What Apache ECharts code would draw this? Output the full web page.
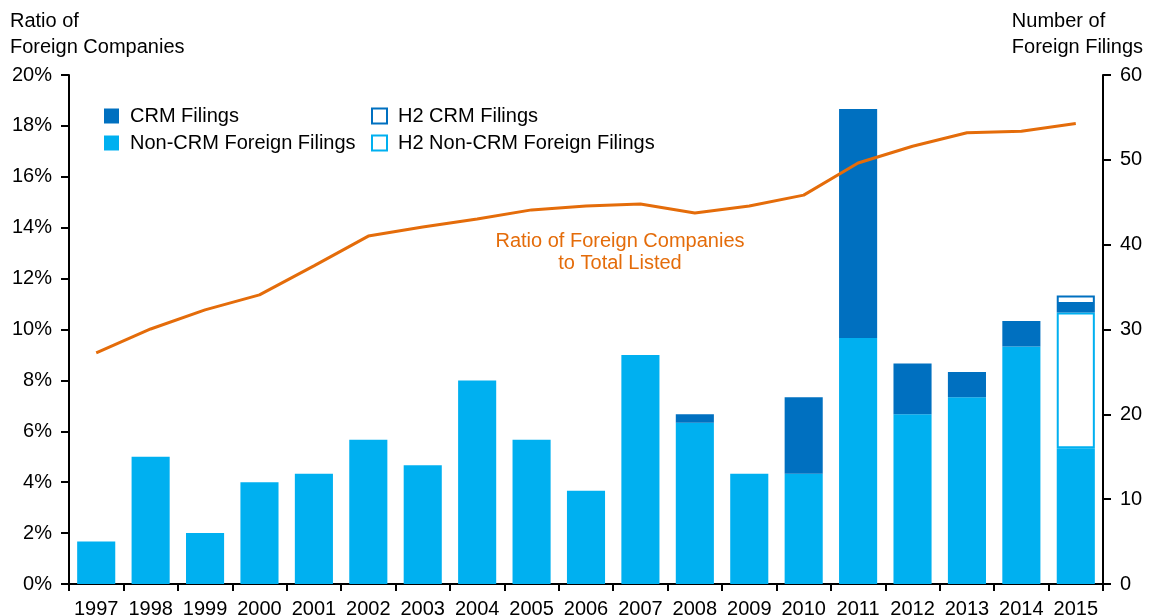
<!DOCTYPE html>
<html><head><meta charset="utf-8">
<script src="https://cdn.jsdelivr.net/npm/echarts@6/dist/echarts.min.js"></script>
<style>html,body{margin:0;padding:0;background:#fff}#c{width:1151px;height:616px}</style>
</head><body><div id="c"></div>
<script>
const years = ['1997','1998','1999','2000','2001','2002','2003','2004','2005','2006','2007','2008','2009','2010','2011','2012','2013','2014','2015'];
const nonCrm = [5,15,6,12,13,17,14,24,17,11,27,19,13,13,29,20,22,28,16];
const h2NonCrm = [0,0,0,0,0,0,0,0,0,0,0,0,0,0,0,0,0,0,16];
const crm = [0,0,0,0,0,0,0,0,0,0,0,1,0,9,27,6,3,3,1];
const h2Crm = [0,0,0,0,0,0,0,0,0,0,0,0,0,0,0,0,0,0,1];
const ratio = [9.08,10.02,10.77,11.36,12.5,13.67,14.03,14.34,14.7,14.85,14.93,14.58,14.85,15.28,16.54,17.2,17.73,17.79,18.09];
const leftTicks = [0,2,4,6,8,10,12,14,16,18,20];
const rightTicks = [0,10,20,30,40,50,60];

const LB = '#00B0F0', DB = '#0070C0', OR = '#E46C0A';
const FONT = 'Liberation Sans';
const FS = 20;
const chart = echarts.init(document.getElementById('c'));
const hide = v => v === 0 ? null : v;
const legendText = {fontSize: FS, color: '#000', fontFamily: FONT, padding: [0, 0, 0, 6]};
chart.setOption({
  animation: false,
  textStyle: {fontFamily: FONT},
  grid: {left: 69, right: 48, top: 75, bottom: 32, containLabel: false, outerBoundsMode: 'none'},
  xAxis: {
    type: 'category', data: years,
    axisLine: {lineStyle: {color: '#000', width: 2}},
    axisTick: {show: true, length: 7, lineStyle: {color: '#000', width: 2}},
    axisLabel: {color: '#000', fontSize: FS, margin: 15, fontFamily: FONT, interval: 0}
  },
  yAxis: [{
    type: 'value', min: 0, max: 20, interval: 2,
    axisLine: {show: true, lineStyle: {color: '#000', width: 2}},
    axisTick: {show: true, length: 8, lineStyle: {color: '#000', width: 2}},
    axisLabel: {color: '#000', fontSize: FS, margin: 17, fontFamily: FONT, formatter: v => v + '%'},
    splitLine: {show: false}
  }, {
    type: 'value', min: 0, max: 60, interval: 10,
    axisLine: {show: true, lineStyle: {color: '#000', width: 2}},
    axisTick: {show: true, length: 8, lineStyle: {color: '#000', width: 2}},
    axisLabel: {color: '#000', fontSize: FS, margin: 17, fontFamily: FONT},
    splitLine: {show: false}
  }],
  legend: [{
    orient: 'vertical', left: 104, top: 106, padding: 0, itemWidth: 15, itemHeight: 15, itemGap: 7, icon: 'rect',
    textStyle: legendText,
    data: [{name: 'CRM Filings'}, {name: 'Non-CRM Foreign Filings'}]
  }, {
    orient: 'vertical', left: 371, top: 106, padding: 0, itemWidth: 15, itemHeight: 15, itemGap: 7, icon: 'rect',
    textStyle: legendText,
    data: [
      {name: 'H2 CRM Filings', itemStyle: {color: '#fff', borderColor: DB, borderWidth: 2}},
      {name: 'H2 Non-CRM Foreign Filings', itemStyle: {color: '#fff', borderColor: LB, borderWidth: 2}}
    ]
  }],
  series: [
    {name: 'Non-CRM Foreign Filings', type: 'bar', stack: 'f', yAxisIndex: 1, barCategoryGap: '30%',
     data: nonCrm.map(hide), itemStyle: {color: LB}},
    {name: 'H2 Non-CRM Foreign Filings', type: 'bar', stack: 'f', yAxisIndex: 1,
     data: h2NonCrm.map(hide), itemStyle: {color: '#fff', borderColor: LB, borderWidth: 2}},
    {name: 'CRM Filings', type: 'bar', stack: 'f', yAxisIndex: 1,
     data: crm.map(hide), itemStyle: {color: DB}},
    {name: 'H2 CRM Filings', type: 'bar', stack: 'f', yAxisIndex: 1,
     data: h2Crm.map(hide), itemStyle: {color: '#fff', borderColor: DB, borderWidth: 2}},
    {name: 'Ratio', type: 'line', yAxisIndex: 0, data: ratio, symbol: 'none',
     lineStyle: {color: OR, width: 3}, itemStyle: {color: OR}, z: 5}
  ],
  graphic: [
    {type: 'text', left: 10, top: 8, style: {text: 'Ratio of\nForeign Companies', font: FS + 'px "Liberation Sans"', fill: '#000', lineHeight: 26}},
    {type: 'text', right: 8, top: 8, style: {text: 'Number of\nForeign Filings', font: FS + 'px "Liberation Sans"', fill: '#000', lineHeight: 26, align: 'right'}},
    {type: 'text', x: 620, y: 230, style: {text: 'Ratio of Foreign Companies\nto Total Listed', font: FS + 'px "Liberation Sans"', fill: OR, lineHeight: 22, align: 'center', verticalAlign: 'top'}}
  ]
});
</script></body></html>
